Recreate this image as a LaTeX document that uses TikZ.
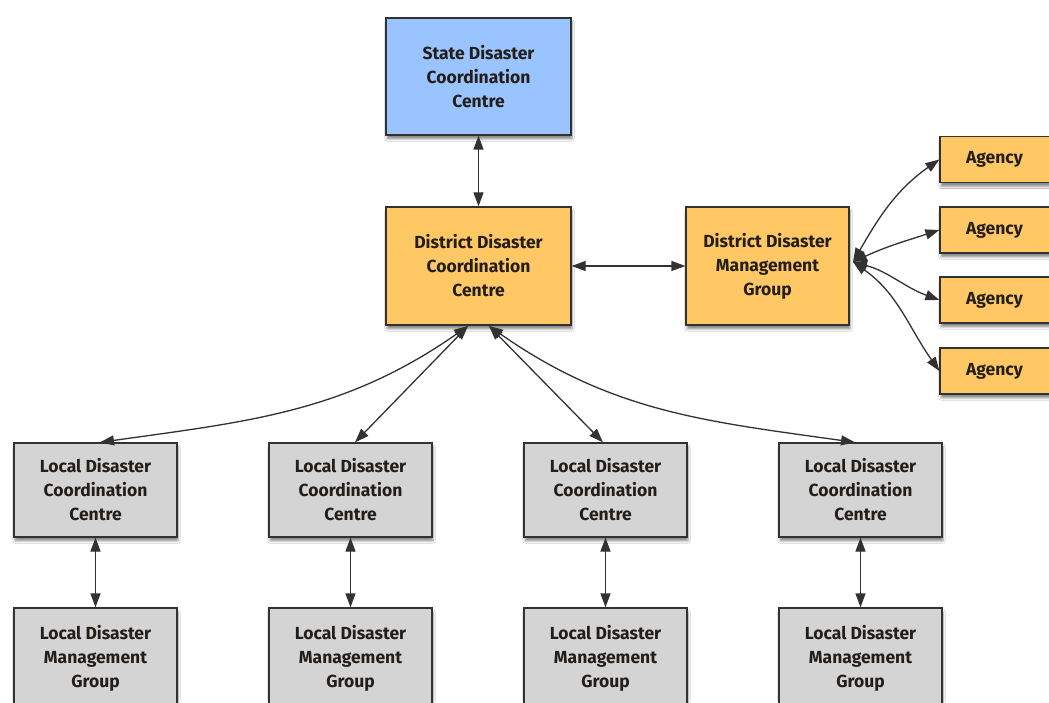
\documentclass[tikz,border=0pt]{standalone}
\usepackage{fontspec}
\setmainfont{Fira Sans}
\usetikzlibrary{arrows.meta,shadows.blur}
\definecolor{sblue}{RGB}{153,196,255}
\definecolor{sorange}{RGB}{255,200,100}
\definecolor{sgray}{RGB}{212,212,212}
\definecolor{sline}{RGB}{50,50,50}
\definecolor{stext}{RGB}{35,30,25}
\tikzset{
  box/.style={draw=sline,line width=1.3pt,align=center,inner sep=2pt,
    font=\fontsize{17.5}{24}\selectfont\bfseries,text=stext,
    blur shadow={shadow xshift=1pt,shadow yshift=-4pt,shadow blur steps=6,shadow opacity=45}},
  bluebox/.style={box,fill=sblue,minimum width=185pt,minimum height=117pt},
  orbox/.style={box,fill=sorange,minimum width=185pt,minimum height=118pt},
  agbox/.style={box,fill=sorange,minimum width=120pt,minimum height=46pt},
  grbox/.style={box,fill=sgray,minimum width=163pt,minimum height=94pt},
  link/.style={draw=sline,line width=1.3pt,{Triangle[length=14pt,width=10pt]}-{Triangle[length=14pt,width=10pt]}},
}
\begin{document}
\begin{tikzpicture}[x=1pt,y=1pt]
\clip (0,0) rectangle (1049,702);
\fill[white] (0,0) rectangle (1049,702);
\node[bluebox] (state) at (478.5,625.5) {State Disaster\\Coordination\\Centre};
\node[orbox] (ddcc) at (478.5,436) {District Disaster\\Coordination\\Centre};
\node[orbox,minimum width=163pt] (ddmg) at (767.5,436) {District Disaster\\Management\\Group};
\node[agbox,text width=100pt,align=left] (a1) at (1000,542.5) {\hspace*{16pt}Agency};
\node[agbox,text width=100pt,align=left] (a2) at (1000,472) {\hspace*{16pt}Agency};
\node[agbox,text width=100pt,align=left] (a3) at (1000,402) {\hspace*{16pt}Agency};
\node[agbox,text width=100pt,align=left] (a4) at (1000,331) {\hspace*{16pt}Agency};
\foreach \i/\x in {1/95.5,2/350.5,3/605.5,4/860.5}{
  \node[grbox] (lc\i) at (\x,212) {Local Disaster\\Coordination\\Centre};
  \node[grbox,minimum height=100pt] (lm\i) at (\x,44) {Local Disaster\\Management\\Group};
  \draw[link] (lc\i.south) -- (lm\i.north);
}
\draw[link] (state.south) -- (ddcc.north);
\draw[link] (ddcc.east) -- (ddmg.west);
\coordinate (hub) at (853,440);
\draw[link] (hub) to[out=60,in=215] (a1.west);
\draw[link] (hub) to[out=25,in=198] (a2.west);
\draw[link] (hub) to[out=-15,in=160] (a3.west);
\draw[link] (hub) to[out=-35,in=125] (a4.west);
\coordinate (dl) at (468,376);
\coordinate (dr) at (489,376);
\draw[link] (dl) to[out=215,in=8] ([xshift=4.5pt]lc1.north);
\draw[link] (dl) -- ([xshift=4.5pt]lc2.north);
\draw[link] (dr) -- ([xshift=-2.5pt]lc3.north);
\draw[link] (dr) to[out=-35,in=172] ([xshift=-5.5pt]lc4.north);
\end{tikzpicture}
\end{document}
